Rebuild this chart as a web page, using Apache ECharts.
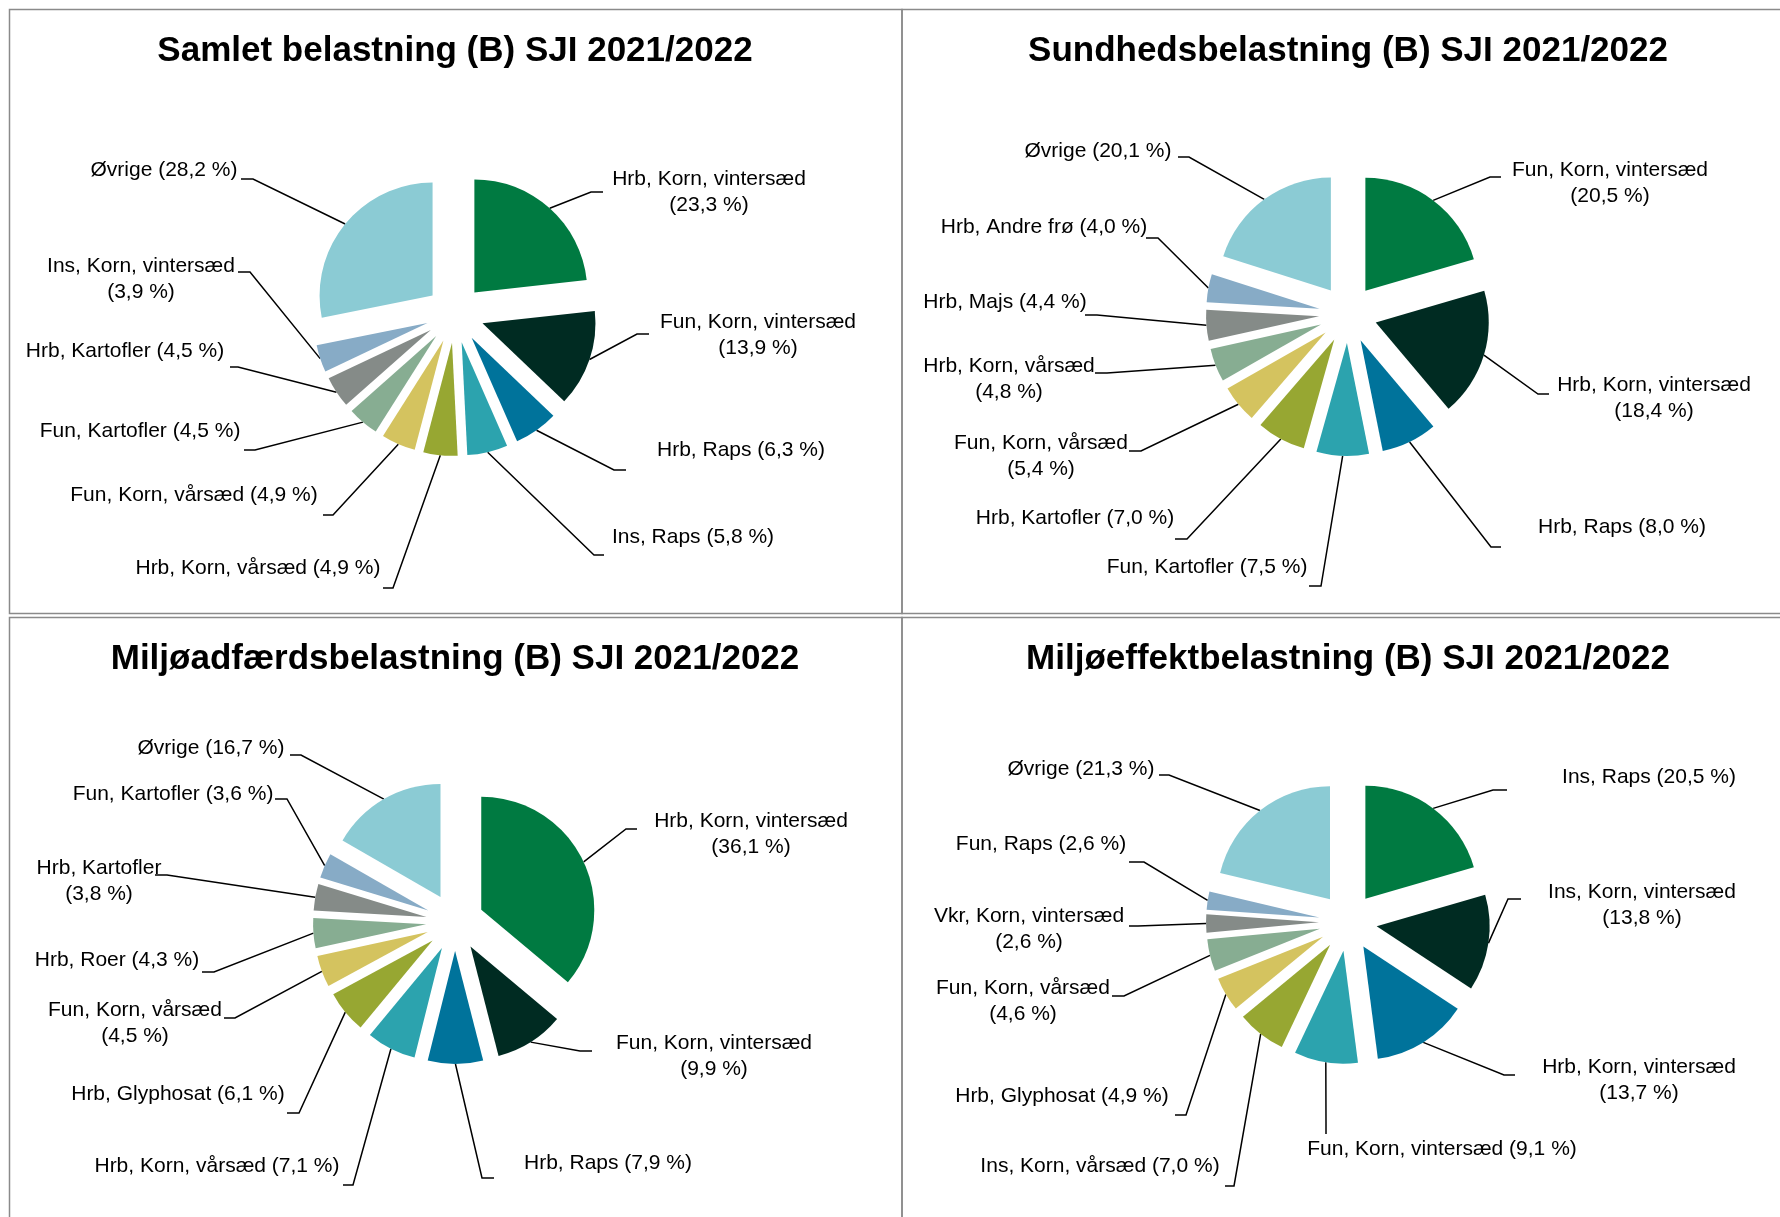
<!DOCTYPE html>
<html>
<head>
<meta charset="utf-8">
<title>Belastning SJI 2021/2022</title>
<script src="https://cdn.jsdelivr.net/npm/echarts@6/dist/echarts.min.js"></script>
<style>
  html, body { margin: 0; padding: 0; background: #fff; }
  #main { width: 1780px; height: 1217px; }
</style>
</head>
<body>
<div id="main"></div>
<script>
// slice colours, clockwise from 12 o'clock
var colors = ['#007a41', '#002b22', '#00739b', '#2ca3ae', '#97a732',
              '#d4c35f', '#87ad92', '#858b88', '#87abc6', '#8bcbd4'];

var titles = [
    'Samlet belastning (B) SJI 2021/2022',
    'Sundhedsbelastning (B) SJI 2021/2022',
    'Miljøadfærdsbelastning (B) SJI 2021/2022',
    'Miljøeffektbelastning (B) SJI 2021/2022'
];

var names1 = ['Hrb, Korn, vintersæd', 'Fun, Korn, vintersæd', 'Hrb, Raps', 'Ins, Raps', 'Hrb, Korn, vårsæd',
              'Fun, Korn, vårsæd', 'Fun, Kartofler', 'Hrb, Kartofler', 'Ins, Korn, vintersæd', 'Øvrige'];
var values1 = [23.3, 13.9, 6.3, 5.8, 4.9, 4.9, 4.5, 4.5, 3.9, 28.2];

var names2 = ['Fun, Korn, vintersæd', 'Hrb, Korn, vintersæd', 'Hrb, Raps', 'Fun, Kartofler', 'Hrb, Kartofler',
              'Fun, Korn, vårsæd', 'Hrb, Korn, vårsæd', 'Hrb, Majs', 'Hrb, Andre frø', 'Øvrige'];
var values2 = [20.5, 18.4, 8.0, 7.5, 7.0, 5.4, 4.8, 4.4, 4.0, 20.1];

var names3 = ['Hrb, Korn, vintersæd', 'Fun, Korn, vintersæd', 'Hrb, Raps', 'Hrb, Korn, vårsæd', 'Hrb, Glyphosat',
              'Fun, Korn, vårsæd', 'Hrb, Roer', 'Hrb, Kartofler', 'Fun, Kartofler', 'Øvrige'];
var values3 = [36.1, 9.9, 7.9, 7.1, 6.1, 4.5, 4.3, 3.8, 3.6, 16.7];

var names4 = ['Ins, Raps', 'Ins, Korn, vintersæd', 'Hrb, Korn, vintersæd', 'Fun, Korn, vintersæd', 'Ins, Korn, vårsæd',
              'Hrb, Glyphosat', 'Fun, Korn, vårsæd', 'Vkr, Korn, vintersæd', 'Fun, Raps', 'Øvrige'];
var values4 = [20.5, 13.8, 13.7, 9.1, 7.0, 4.9, 4.6, 2.6, 2.6, 21.3];

// which labels break onto two lines
var wraps = [
    [1, 1, 0, 0, 0, 0, 0, 0, 1, 0],
    [1, 1, 0, 0, 0, 1, 1, 0, 0, 0],
    [1, 1, 0, 0, 0, 1, 0, 1, 0, 0],
    [0, 1, 1, 0, 0, 0, 1, 1, 0, 0]
];

// label placement relative to pie centre: text centre x,y / line end x,y / bend x,y
var labelPos = [
    [[254, -122, 148, -122, 136, -122], [303, 21, 194, 20, 182, 20], [286, 136, 171, 156, 159, 156],
     [238, 223, 149, 241, 139, 241], [-197, 254, -72, 274, -62, 274], [-261, 181, -132, 201, -122, 201],
     [-315, 117, -211, 136, -200, 136], [-330, 37, -225, 53, -217, 53], [-314, -35, -217, -42, -205, -42],
     [-291, -144, -214, -135, -202, -135]],
    [[262, -131, 153, -137, 142, -137], [306, 84, 201, 80, 190, 80], [274, 213, 153, 233, 143, 233],
     [-141, 253, -39, 272, -27, 272], [-273, 204, -173, 225, -161, 225], [-307, 142, -219, 137, -207, 137],
     [-339, 65, -253, 59, -241, 59], [-343, -12, -263, 1, -251, 1], [-304, -87, -202, -76, -190, -76],
     [-250, -163, -170, -157, -159, -157]],
    [[296, -88, 182, -93, 171, -93], [259, 134, 137, 129, 125, 129], [153, 241, 39, 256, 27, 256],
     [-238, 244, -112, 263, -102, 263], [-277, 172, -168, 191, -156, 191], [-320, 101, -231, 96, -220, 96],
     [-338, 38, -253, 50, -241, 50], [-356, -41, -300, -47, -288, -47], [-282, -128, -180, -123, -168, -123],
     [-244, -174, -165, -167, -154, -167]],
    [[301, -145, 159, -132, 145, -132], [294, -17, 173, -23, 160, -23], [291, 158, 167, 153, 156, 153],
     [94, 227, -22, 212, -22, 200], [-248, 244, -123, 264, -114, 264], [-286, 174, -173, 193, -162, 193],
     [-325, 79, -236, 74, -224, 74], [-319, 7, -219, 4, -210, 4], [-307, -78, -219, -60, -204, -60],
     [-267, -153, -189, -147, -179, -147]]
];

var centers = [[455, 314], [1348, 314], [455, 922], [1348, 922]];
var panels = [[9.5, 9.5], [902, 9.5], [9.5, 617.5], [902, 617.5]];
var allNames = [names1, names2, names3, names4];
var allValues = [values1, values2, values3, values4];

var radius = 113;
var explode = 29;
var font = '"Liberation Sans", Arial, sans-serif';

function fmt(v) {
    return v.toFixed(1).replace('.', ',');
}

var chart = echarts.init(document.getElementById('main'));

var graphics = [];
panels.forEach(function (p, i) {
    graphics.push({
        type: 'rect', z: -1,
        shape: { x: p[0], y: p[1], width: 892.5, height: 604 },
        style: { fill: 'none', stroke: '#8a8a8a', lineWidth: 1.5 }
    });
    graphics.push({
        type: 'text',
        x: centers[i][0], y: p[1] + 42,
        style: {
            text: titles[i], fill: '#000', font: 'bold 35px ' + font,
            align: 'center', verticalAlign: 'middle'
        }
    });
});

var series = [];
allValues.forEach(function (vals, s) {
    // exploded slices
    series.push({
        type: 'pie',
        center: centers[s],
        radius: radius,
        startAngle: 90,
        clockwise: true,
        selectedMode: 'multiple',
        selectedOffset: explode,
        emphasis: { disabled: true },
        label: { show: false },
        labelLine: { show: false },
        data: vals.map(function (v, i) {
            return { name: allNames[s][i], value: v, selected: true, itemStyle: { color: colors[i] } };
        })
    });
    // same data, transparent, only carries the labels and leader lines
    series.push({
        type: 'pie',
        silent: true,
        center: centers[s],
        radius: radius + explode,
        startAngle: 90,
        clockwise: true,
        avoidLabelOverlap: false,
        emphasis: { disabled: true },
        itemStyle: { color: 'rgba(0,0,0,0)' },
        label: {
            show: true,
            position: 'outside',
            color: '#000',
            fontFamily: font,
            fontSize: 21,
            lineHeight: 26,
            formatter: function (p) {
                return p.name + (wraps[s][p.dataIndex] ? '\n' : ' ') + '(' + fmt(p.value) + ' %)';
            }
        },
        labelLine: {
            show: true, length: 10, length2: 10,
            lineStyle: { color: '#000', width: 1.5 }
        },
        labelLayout: function (params) {
            var c = centers[s];
            var q = labelPos[s][params.dataIndex];
            var p0 = params.labelLinePoints[0];
            return {
                x: c[0] + q[0],
                y: c[1] + q[1],
                align: 'center',
                verticalAlign: 'middle',
                labelLinePoints: [p0, [c[0] + q[4], c[1] + q[5]], [c[0] + q[2], c[1] + q[3]]]
            };
        },
        data: vals.map(function (v, i) {
            return { name: allNames[s][i], value: v };
        })
    });
});

chart.setOption({
    animation: false,
    graphic: graphics,
    series: series
});
</script>
</body>
</html>
